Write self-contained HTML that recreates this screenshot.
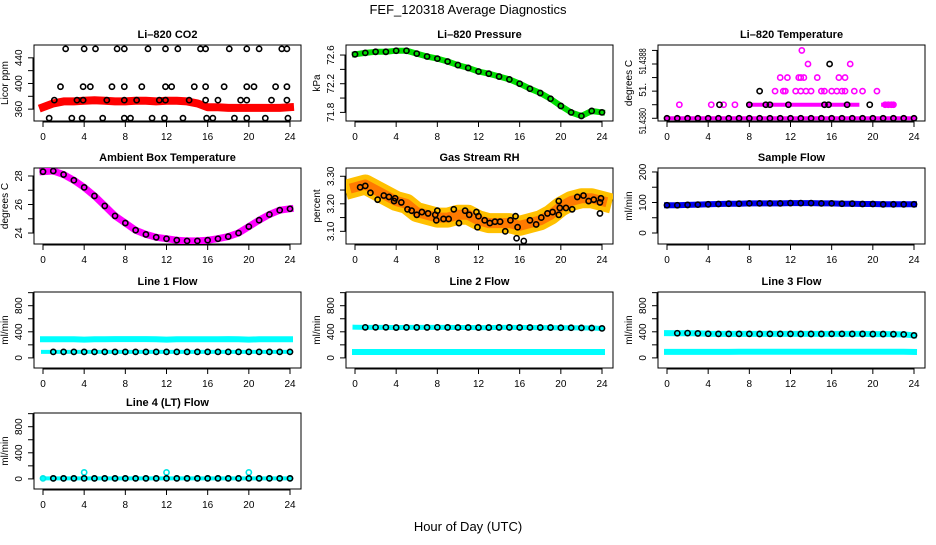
<!DOCTYPE html>
<html><head><meta charset="utf-8"><style>
html,body{margin:0;padding:0;background:#fff;}
svg text{font-family:"Liberation Sans",sans-serif;}
</style></head><body>
<svg id="chart" width="936" height="540" viewBox="0 0 936 540" xmlns="http://www.w3.org/2000/svg">
<rect width="936" height="540" fill="#fff"/>
<text x="468" y="14" font-size="13" text-anchor="middle">FEF_120318  Average Diagnostics</text>
<text x="468" y="531" font-size="13" text-anchor="middle">Hour of Day (UTC)</text>
</svg>
<script>
// ---- data ----
const hours = [0,1,2,3,4,5,6,7,8,9,10,11,12,13,14,15,16,17,18,19,20,21,22,23,24];
const xTicks = [0,4,8,12,16,20,24];
// CO2
const co2Band = [363,369,372,372,373,374,373,372,372,373,373,372,373,373,372,369,363,363,362,362,362,362,362,362,363];
const co2BlackH = [2.2,4.0,5.1,7.2,7.9,10.2,11.9,13.1,15.3,15.8,18.1,19.8,21.0,23.2,23.7, 1.7,3.9,4.6,6.7,7.9,9.6,11.9,12.5,14.7,15.8,17.6,19.8,20.5,22.6,23.7, 1.1,3.3,3.9,6.2,7.9,9.1,11.3,11.9,14.2,15.8,17.0,19.2,19.8,22.2,23.7, 0.6,2.8,3.8,5.8,7.9,8.5,10.6,11.8,13.6,15.9,16.5,18.6,19.8,21.6,23.8];
const co2BlackV = [454,454,454,454,454,454,454,454,454,454,454,454,454,454,454, 395,395,395,395,395,395,395,395,395,395,395,395,395,395,395, 374,374,374,374,374,374,374,374,374,374,374,374,374,374,374, 346,346,346,346,346,346,346,346,346,346,346,346,346,346,346];
// Pressure
const pressure = [72.61,72.63,72.645,72.645,72.66,72.66,72.62,72.58,72.55,72.51,72.46,72.42,72.37,72.34,72.30,72.26,72.20,72.13,72.07,71.99,71.89,71.80,71.75,71.82,71.80];
// Li-820 temperature (levels above 51.4380, in units of 0.0002)
const tempPinkH = [1.2,4.3,5.5,6.6,21.2,21.5,21.8,22.0, 10.5,11.3,11.5,12.5,13.0,13.5,14.0,15.0,15.3,16.0,16.5,17.0,17.3,18.2,19.0,20.4, 11.0,11.7,12.8,13.0,13.3,14.6,16.7,17.3, 13.7,17.8, 13.1];
const tempPinkL = [1,1,1,1,1,1,1,1, 2,2,2,2,2,2,2,2,2,2,2,2,2,2,2,2, 3,3,3,3,3,3,3,3, 4,4, 5];
const tempBlackH = [5.1,8.0,9.6,10.0,11.8,15.3,15.7,17.5,19.7,9.0,15.8];
const tempBlackL = [1,1,1,1,1,1,1,1,1,2,4];
// Ambient temperature
const ambient = [28.3,28.35,28.1,27.7,27.2,26.6,25.9,25.2,24.7,24.2,23.9,23.7,23.6,23.5,23.45,23.45,23.5,23.6,23.75,24.0,24.45,24.9,25.3,25.6,25.7];
// RH
const rhBand = [3.26,3.27,3.25,3.23,3.21,3.20,3.17,3.16,3.15,3.15,3.16,3.16,3.14,3.13,3.13,3.13,3.12,3.13,3.14,3.16,3.19,3.21,3.22,3.22,3.21];
const rhBlackH = [0.5,1,1.5,2.2,2.8,3.3,3.8,3.9,4.5,5.1,5.5,6.0,6.5,7.1,7.8,7.9,8.0,8.6,9.1,9.6,10.1,10.7,11.1,11.8,11.9,12.0,12.6,13.1,13.6,14.1,14.6,15.1,15.6,15.7,15.8,16.4,17.0,17.6,18.1,18.7,19.2,19.8,19.8,19.9,20.5,21.1,21.6,22.2,22.7,23.2,23.8,23.8,23.9];
const rhBlackV = [3.26,3.265,3.24,3.215,3.23,3.225,3.21,3.22,3.205,3.18,3.175,3.16,3.17,3.165,3.16,3.14,3.175,3.145,3.145,3.18,3.13,3.175,3.16,3.17,3.115,3.155,3.14,3.13,3.135,3.135,3.10,3.14,3.155,3.075,3.115,3.065,3.14,3.125,3.15,3.165,3.17,3.21,3.16,3.185,3.185,3.18,3.225,3.23,3.21,3.215,3.205,3.165,3.22];
// Sample flow
const sampleFlow = [91,91,92,93,94,95,96,96,97,97,97,97,98,98,98,97,97,96,96,95,95,94,94,94,94];
// Line flows
const line1Cyan = [285,285,285,285,280,285,285,288,288,288,288,285,280,285,285,285,285,285,288,285,280,285,285,285,285];
const line1Black = [92,92,92,92,92,92,92,92,92,92,92,92,92,92,92,92,92,92,92,92,92,92,92,92,92];
const line2Cyan = [90,90,90,90,90,90,90,90,90,90,90,90,90,90,90,90,90,90,90,90,90,90,90,90,90];
const line2Black = [470,468,468,468,465,467,467,467,468,467,466,466,465,465,467,467,466,466,465,465,462,462,460,458,452];
const line3Cyan = [92,92,92,92,92,92,92,95,95,95,95,95,95,95,95,95,95,95,95,95,95,95,95,95,92];
const line3Black = [380,378,380,375,370,368,368,368,368,367,368,368,368,367,367,367,368,368,367,367,365,365,363,360,345];
const line4Cyan = [8,8,8,8,100,8,8,8,8,8,8,8,100,8,8,8,8,8,8,8,100,8,8,8,8];
const line4Black = [8,8,8,8,8,8,8,8,8,8,8,8,8,8,8,8,8,8,8,8,8,8,8,8,8];

// ---- drawing ----
const NS = "http://www.w3.org/2000/svg";
const svg = document.getElementById('chart');
const colX = [34, 346, 658], rowY = [45, 168, 292, 413], PW = 267, PH = 76;
function mk(tag, attrs, parent) {
  const e = document.createElementNS(NS, tag);
  for (const k in attrs) e.setAttribute(k, attrs[k]);
  (parent || svg).appendChild(e);
  return e;
}
function panel(name, title, col, row, ylim, ticks, labels, ylab, labelPos, labelLen) {
  const x0 = colX[col], y0 = rowY[row];
  const g = mk('g', {});
  
  
  const sx = h => x0 + 9 + h / 24 * 247;
  const sy = v => y0 + PH - (v - ylim[0]) / (ylim[1] - ylim[0]) * PH;
  const t = mk('text', {x: x0 + PW / 2, y: y0 - 7, 'font-size': 11, 'font-weight': 'bold', 'text-anchor': 'middle'}, g);
  t.textContent = title;
  
  
  const box = mk('rect', {x: x0, y: y0, width: PW, height: PH, fill: 'none', stroke: '#000', 'stroke-width': 1}, g);
  
  
  mk('line', {x1: sx(0), x2: sx(24), y1: y0 + PH + 1, y2: y0 + PH + 1, stroke: '#000'}, g);
  xTicks.forEach(h => {
    mk('line', {x1: sx(h), x2: sx(h), y1: y0 + PH, y2: y0 + PH + 6, stroke: '#000'}, g);
    const tl = mk('text', {x: sx(h), y: y0 + PH + 19, 'font-size': 10, 'text-anchor': 'middle'}, g);
    tl.textContent = h;
    
    
  });
  mk('line', {x1: x0 - 1, x2: x0 - 1, y1: sy(ticks[0]), y2: sy(ticks[ticks.length - 1]), stroke: '#000'}, g);
  ticks.forEach((v, i) => {
    mk('line', {x1: x0 - 6, x2: x0, y1: sy(v), y2: sy(v), stroke: '#000'}, g);
    if (labels[i] !== '') {
      const yy = labelPos ? sy(labelPos[i]) : sy(v);
      const at = {x: 0, y: 0, 'font-size': 10, 'text-anchor': 'middle', transform: `translate(${x0 - 12},${yy}) rotate(-90)`};
      if (labelLen && labelLen[i]) { at.textLength = labelLen[i]; at.lengthAdjust = 'spacingAndGlyphs'; }
      const tl = mk('text', at, g);
      tl.textContent = labels[i];
      
      
    }
  });
  const yl = mk('text', {x: 0, y: 0, 'font-size': 10, 'text-anchor': 'middle', transform: `translate(${x0 - 26},${y0 + PH / 2}) rotate(-90)`}, g);
  yl.textContent = ylab;
  
  
  const clip = 'clip' + name;
  const cp = mk('clipPath', {id: clip}, g);
  mk('rect', {x: x0, y: y0, width: PW, height: PH}, cp);
  const data = mk('g', {'clip-path': `url(#${clip})`}, g);
  return {sx, sy, g: data};
}
function band(p, xs, vs, color, w, name) {
  const d = xs.map((h, i) => (i ? 'L' : 'M') + p.sx(h).toFixed(1) + ',' + p.sy(vs[i]).toFixed(1)).join('');
  const e = mk('path', {d, fill: 'none', stroke: color, 'stroke-width': w, 'stroke-linejoin': 'round', 'stroke-linecap': 'square'}, p.g);
  
  
}
function pts(p, xs, vs, color, name, r) {
  xs.forEach((h, i) => {
    const c = mk('circle', {cx: p.sx(h), cy: p.sy(vs[i]), r: r || 2.6, fill: 'none', stroke: color, 'stroke-width': 1.6}, p.g);
    
    
  });
}

const flowTicks = [0,200,400,600,800,1000], flowLabels = ['0','','400','','800',''];

let p = panel('co2', 'Li\u2013820 CO2', 0, 0, [341.5, 460], [360,380,400,420,440], ['360','','400','','440'], 'Licor ppm');
band(p, hours, co2Band, '#ff0000', 8, 'co2-band');
pts(p, co2BlackH, co2BlackV, '#000', 'co2-point');

p = panel('pressure', 'Li\u2013820 Pressure', 1, 0, [71.68, 72.74], [71.8,72.0,72.2,72.4,72.6], ['71.8','','72.2','','72.6'], 'kPa');
band(p, hours, pressure, '#00dd00', 6, 'pressure-band');
pts(p, hours, pressure, '#000', 'pressure-point');

p = panel('licor-temp', 'Li\u2013820 Temperature', 2, 0, [-0.2, 5.4], [0,1,2,3,4,5], ['51.4380','','51.','','51.4388',''], 'degrees C', [-0.2,0,2.1,0,4.2,0], [26,0,0,0,26,0]);
band(p, [0, 24], [0, 0], '#ff00ff', 4, 'temp-band-base');
band(p, [8, 18.5], [1, 1], '#ff00ff', 4, 'temp-band-level1');
band(p, [21, 22], [1, 1], '#ff00ff', 4, 'temp-band-level1b');
pts(p, tempPinkH, tempPinkL, '#ff00ff', 'temp-point');
pts(p, hours, hours.map(() => 0), '#000', 'temp-black-point');
pts(p, tempBlackH, tempBlackL, '#000', 'temp-black-point');

p = panel('ambient', 'Ambient Box Temperature', 0, 1, [23.23, 28.56], [24,25,26,27,28], ['24','','26','','28'], 'degrees C');
band(p, hours, ambient, '#ff00ff', 7, 'ambient-band');
pts(p, hours, ambient, '#000', 'ambient-point');

p = panel('rh', 'Gas Stream RH', 1, 1, [3.054, 3.33], [3.10,3.15,3.20,3.25,3.30], ['3.10','','3.20','','3.30'], 'percent');
band(p, hours, rhBand, '#ffc000', 20, 'rh-band-outer');
band(p, hours, rhBand, '#ff7a00', 10, 'rh-band-inner');
pts(p, rhBlackH, rhBlackV, '#000', 'rh-point');

p = panel('sample-flow', 'Sample Flow', 2, 1, [-36, 213], [0,50,100,150,200], ['0','','100','','200'], 'ml/min');
band(p, hours, sampleFlow, '#0000ee', 6, 'sample-flow-band');
pts(p, hours, sampleFlow, '#000', 'sample-flow-point');

p = panel('line1', 'Line 1 Flow', 0, 2, [-155, 1010], flowTicks, flowLabels, 'ml/min');
band(p, hours, line1Cyan, '#00ffff', 6, 'line1-band');
band(p, hours, line1Black, '#00ffff', 4, 'line1-low-band');
pts(p, hours.slice(1), line1Black.slice(1), '#000', 'line1-point');

p = panel('line2', 'Line 2 Flow', 1, 2, [-155, 1010], flowTicks, flowLabels, 'ml/min');
band(p, hours, line2Cyan, '#00ffff', 6, 'line2-low-band');
band(p, hours, line2Black, '#00ffff', 5, 'line2-band');
pts(p, hours.slice(1), line2Black.slice(1), '#000', 'line2-point');

p = panel('line3', 'Line 3 Flow', 2, 2, [-155, 1010], flowTicks, flowLabels, 'ml/min');
band(p, hours, line3Cyan, '#00ffff', 6, 'line3-low-band');
band(p, hours, line3Black, '#00ffff', 6, 'line3-band');
pts(p, hours.slice(1), line3Black.slice(1), '#000', 'line3-point');

p = panel('line4', 'Line 4 (LT) Flow', 0, 3, [-155, 1010], flowTicks, flowLabels, 'ml/min');
band(p, hours, line4Black, '#00ffff', 4, 'line4-band');
pts(p, hours, line4Cyan, '#00e5e5', 'line4-cyan-point');
pts(p, hours.slice(1), line4Black.slice(1), '#000', 'line4-point');
</script>
</body></html>
